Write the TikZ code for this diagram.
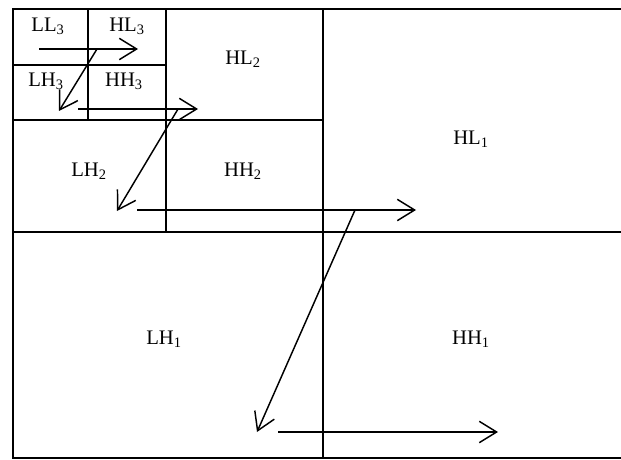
\documentclass[tikz,border=0pt]{standalone}
\usepackage{fontspec}
\setmainfont{Liberation Serif}
\usetikzlibrary{arrows.meta}

\tikzset{every picture/.style={line width=1.1pt}}
\tikzset{
  band/.style={font=\fontsize{15.5}{17}\selectfont, inner sep=0.75pt},
  scan/.style={-{Straight Barb[length=13pt,width=16pt,line width=1.1pt]}, line width=1.1pt}
}

\begin{document}
\begin{tikzpicture}[x=0.75pt,y=0.75pt,yscale=-1,xscale=1]
\useasboundingbox (0,0) rectangle (621,460);

%Outer frame (open at the right)
\draw (621,9) -- (13,9) -- (13,458) -- (621,458) ;
%Level 1
\draw (323,9) -- (323,458) ;
\draw (13,232) -- (621,232) ;
%Level 2
\draw (166,9) -- (166,232) ;
\draw (13,120) -- (323,120) ;
%Level 3
\draw (88,9) -- (88,120) ;
\draw (13,65) -- (166,65) ;

% Text Nodes
\node (ll3) [band] at (48,26) {LL\textsubscript{3}};
\node (hl3) [band] at (127,26) {HL\textsubscript{3}};
\node (lh3) [band] at (46,81) {LH\textsubscript{3}};
\node (hh3) [band] at (124,81) {HH\textsubscript{3}};
\node (hl2) [band] at (243,59) {HL\textsubscript{2}};
\node (lh2) [band] at (89,171) {LH\textsubscript{2}};
\node (hh2) [band] at (243,171) {HH\textsubscript{2}};
\node (hl1) [band] at (471,139) {HL\textsubscript{1}};
\node (lh1) [band] at (164,339) {LH\textsubscript{1}};
\node (hh1) [band] at (471,339) {HH\textsubscript{1}};

% Scan path points
\coordinate (a0) at (39,49);  \coordinate (a1) at (138,49);
\coordinate (b0) at (97,49);  \coordinate (b1) at (59,111);
\coordinate (c0) at (78,109); \coordinate (c1) at (198,109);
\coordinate (d0) at (178,109);\coordinate (d1) at (117,211);
\coordinate (e0) at (137,210);\coordinate (e1) at (416,210);
\coordinate (f0) at (355,210);\coordinate (f1) at (257,432);
\coordinate (g0) at (278,432);\coordinate (g1) at (498,432);

% Scan arrows
\draw [scan] (a0) -- (a1) ;
\draw [scan] (b0) -- (b1) ;
\draw [scan] (c0) -- (c1) ;
\draw [scan] (d0) -- (d1) ;
\draw [scan] (e0) -- (e1) ;
\draw [scan] (f0) -- (f1) ;
\draw [scan] (g0) -- (g1) ;

\end{tikzpicture}
\end{document}
